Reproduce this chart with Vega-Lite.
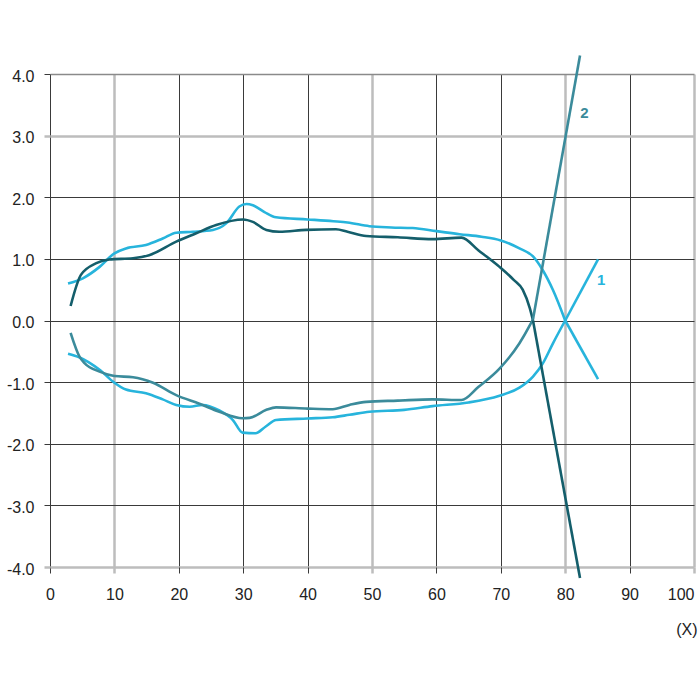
{
  "$schema": "https://vega.github.io/schema/vega-lite/v6.json",
  "width": 644,
  "height": 493,
  "autosize": "none",
  "padding": {"left": 50, "top": 74, "right": 6, "bottom": 133},
  "background": "white",
  "config": {
    "view": {"stroke": null},
    "font": "Liberation Sans"
  },
  "data": {
    "values": [
      {"s": "A", "seg": "curve", "x": 2.8, "y": 0.6}, {"s": "A", "seg": "curve", "x": 5.1, "y": 0.685}, {"s": "A", "seg": "curve", "x": 7.7, "y": 0.87},
      {"s": "A", "seg": "curve", "x": 10, "y": 1.09}, {"s": "A", "seg": "curve", "x": 11.8, "y": 1.17}, {"s": "A", "seg": "curve", "x": 14.9, "y": 1.225},
      {"s": "A", "seg": "curve", "x": 17.5, "y": 1.33}, {"s": "A", "seg": "curve", "x": 19.6, "y": 1.425}, {"s": "A", "seg": "curve", "x": 22.2, "y": 1.44},
      {"s": "A", "seg": "curve", "x": 25.3, "y": 1.47}, {"s": "A", "seg": "curve", "x": 27.4, "y": 1.58}, {"s": "A", "seg": "curve", "x": 29.4, "y": 1.85},
      {"s": "A", "seg": "curve", "x": 30.5, "y": 1.89}, {"s": "A", "seg": "curve", "x": 31.5, "y": 1.87}, {"s": "A", "seg": "curve", "x": 33.3, "y": 1.76},
      {"s": "A", "seg": "curve", "x": 35.1, "y": 1.675}, {"s": "A", "seg": "curve", "x": 40, "y": 1.64}, {"s": "A", "seg": "curve", "x": 44, "y": 1.61},
      {"s": "A", "seg": "curve", "x": 46.2, "y": 1.59}, {"s": "A", "seg": "curve", "x": 49.6, "y": 1.53}, {"s": "A", "seg": "curve", "x": 53, "y": 1.51},
      {"s": "A", "seg": "curve", "x": 56.3, "y": 1.5}, {"s": "A", "seg": "curve", "x": 60, "y": 1.45}, {"s": "A", "seg": "curve", "x": 63.6, "y": 1.4},
      {"s": "A", "seg": "curve", "x": 67, "y": 1.36}, {"s": "A", "seg": "curve", "x": 70, "y": 1.3}, {"s": "A", "seg": "curve", "x": 72.9, "y": 1.17},
      {"s": "A", "seg": "curve", "x": 75, "y": 1.04}, {"s": "A", "seg": "curve", "x": 76.5, "y": 0.82}, {"s": "A", "seg": "curve", "x": 78.1, "y": 0.495},
      {"s": "A", "seg": "curve", "x": 80, "y": 0},
      {"s": "A", "seg": "tail", "x": 80, "y": 0}, {"s": "A", "seg": "tail", "x": 85.1, "y": -0.95},

      {"s": "B", "seg": "curve", "x": 2.8, "y": -0.54}, {"s": "B", "seg": "curve", "x": 4.6, "y": -0.6}, {"s": "B", "seg": "curve", "x": 7.7, "y": -0.8},
      {"s": "B", "seg": "curve", "x": 10, "y": -1.01}, {"s": "B", "seg": "curve", "x": 11.8, "y": -1.12}, {"s": "B", "seg": "curve", "x": 14.9, "y": -1.18},
      {"s": "B", "seg": "curve", "x": 17.5, "y": -1.28}, {"s": "B", "seg": "curve", "x": 19.6, "y": -1.37}, {"s": "B", "seg": "curve", "x": 21.7, "y": -1.4},
      {"s": "B", "seg": "curve", "x": 23.7, "y": -1.37}, {"s": "B", "seg": "curve", "x": 26.3, "y": -1.46}, {"s": "B", "seg": "curve", "x": 28.4, "y": -1.615},
      {"s": "B", "seg": "curve", "x": 29.9, "y": -1.82}, {"s": "B", "seg": "curve", "x": 31.9, "y": -1.83}, {"s": "B", "seg": "curve", "x": 33.5, "y": -1.72},
      {"s": "B", "seg": "curve", "x": 35.1, "y": -1.615}, {"s": "B", "seg": "curve", "x": 40, "y": -1.59}, {"s": "B", "seg": "curve", "x": 43.9, "y": -1.57},
      {"s": "B", "seg": "curve", "x": 46.5, "y": -1.53}, {"s": "B", "seg": "curve", "x": 49.6, "y": -1.48}, {"s": "B", "seg": "curve", "x": 55, "y": -1.45},
      {"s": "B", "seg": "curve", "x": 59.4, "y": -1.39}, {"s": "B", "seg": "curve", "x": 65, "y": -1.33}, {"s": "B", "seg": "curve", "x": 69.8, "y": -1.22},
      {"s": "B", "seg": "curve", "x": 72.9, "y": -1.09}, {"s": "B", "seg": "curve", "x": 75, "y": -0.91}, {"s": "B", "seg": "curve", "x": 76.5, "y": -0.7},
      {"s": "B", "seg": "curve", "x": 78.1, "y": -0.37}, {"s": "B", "seg": "curve", "x": 80, "y": 0},
      {"s": "B", "seg": "tail", "x": 80, "y": 0}, {"s": "B", "seg": "tail", "x": 85.1, "y": 0.99},

      {"s": "C", "seg": "curve", "x": 3.2, "y": 0.235}, {"s": "C", "seg": "curve", "x": 4.8, "y": 0.74}, {"s": "C", "seg": "curve", "x": 7.2, "y": 0.93},
      {"s": "C", "seg": "curve", "x": 9.2, "y": 0.99}, {"s": "C", "seg": "curve", "x": 12.9, "y": 1.01}, {"s": "C", "seg": "curve", "x": 15.4, "y": 1.06},
      {"s": "C", "seg": "curve", "x": 19.6, "y": 1.28}, {"s": "C", "seg": "curve", "x": 22.7, "y": 1.415}, {"s": "C", "seg": "curve", "x": 25.8, "y": 1.55},
      {"s": "C", "seg": "curve", "x": 30, "y": 1.64}, {"s": "C", "seg": "curve", "x": 31.5, "y": 1.6}, {"s": "C", "seg": "curve", "x": 33.6, "y": 1.47},
      {"s": "C", "seg": "curve", "x": 35.6, "y": 1.44}, {"s": "C", "seg": "curve", "x": 39.8, "y": 1.47}, {"s": "C", "seg": "curve", "x": 44.4, "y": 1.48},
      {"s": "C", "seg": "curve", "x": 46.2, "y": 1.44}, {"s": "C", "seg": "curve", "x": 49.1, "y": 1.37}, {"s": "C", "seg": "curve", "x": 54, "y": 1.35},
      {"s": "C", "seg": "curve", "x": 59.4, "y": 1.32}, {"s": "C", "seg": "curve", "x": 63.9, "y": 1.345}, {"s": "C", "seg": "curve", "x": 66.5, "y": 1.14},
      {"s": "C", "seg": "curve", "x": 69.8, "y": 0.87}, {"s": "C", "seg": "curve", "x": 72, "y": 0.66}, {"s": "C", "seg": "curve", "x": 73.4, "y": 0.5},
      {"s": "C", "seg": "curve", "x": 74.5, "y": 0.2}, {"s": "C", "seg": "curve", "x": 75, "y": 0},
      {"s": "C", "seg": "tail", "x": 75, "y": 0}, {"s": "C", "seg": "tail", "x": 82.3, "y": -4.18},

      {"s": "D", "seg": "curve", "x": 3.2, "y": -0.2}, {"s": "D", "seg": "curve", "x": 4.6, "y": -0.59}, {"s": "D", "seg": "curve", "x": 5.4, "y": -0.695},
      {"s": "D", "seg": "curve", "x": 7.7, "y": -0.83}, {"s": "D", "seg": "curve", "x": 10, "y": -0.9}, {"s": "D", "seg": "curve", "x": 12.9, "y": -0.92},
      {"s": "D", "seg": "curve", "x": 16, "y": -1.01}, {"s": "D", "seg": "curve", "x": 19.6, "y": -1.21}, {"s": "D", "seg": "curve", "x": 23.2, "y": -1.35},
      {"s": "D", "seg": "curve", "x": 26.3, "y": -1.48}, {"s": "D", "seg": "curve", "x": 29.9, "y": -1.585}, {"s": "D", "seg": "curve", "x": 31, "y": -1.58},
      {"s": "D", "seg": "curve", "x": 33.6, "y": -1.45}, {"s": "D", "seg": "curve", "x": 35.1, "y": -1.41}, {"s": "D", "seg": "curve", "x": 40, "y": -1.43},
      {"s": "D", "seg": "curve", "x": 43.9, "y": -1.44}, {"s": "D", "seg": "curve", "x": 46.5, "y": -1.37}, {"s": "D", "seg": "curve", "x": 49.1, "y": -1.32},
      {"s": "D", "seg": "curve", "x": 54, "y": -1.3}, {"s": "D", "seg": "curve", "x": 59.4, "y": -1.28}, {"s": "D", "seg": "curve", "x": 63.9, "y": -1.29},
      {"s": "D", "seg": "curve", "x": 66.5, "y": -1.08}, {"s": "D", "seg": "curve", "x": 69.8, "y": -0.78}, {"s": "D", "seg": "curve", "x": 72.9, "y": -0.37},
      {"s": "D", "seg": "curve", "x": 74.5, "y": -0.08}, {"s": "D", "seg": "curve", "x": 75, "y": 0.02},
      {"s": "D", "seg": "tail", "x": 75, "y": 0.02}, {"s": "D", "seg": "tail", "x": 82.3, "y": 4.3},

      {"s": "D", "seg": "label", "x": 83.0, "y": 3.37, "label": "2"},
      {"s": "A", "seg": "label", "x": 85.6, "y": 0.66, "label": "1"}
    ]
  },
  "encoding": {
    "x": {
      "field": "x",
      "type": "quantitative",
      "scale": {"domain": [0, 100], "nice": false},
      "axis": {
        "values": [0, 10, 20, 30, 40, 50, 60, 70, 80, 90, 100],
        "domain": false,
        "title": "(X)",
        "titleFontWeight": "normal",
        "titleFontSize": 16,
        "titleColor": "#222",
        "titleAnchor": "end",
        "titleAlign": "right",
        "titleBaseline": "middle",
        "titleX": 647,
        "titleY": 62,
        "labelFontSize": 16,
        "labelColor": "#222",
        "labelPadding": 13,
        "labelFlush": false,
        "labelAlign": {"condition": {"test": "datum.value == 100", "value": "right"}, "value": "center"},
        "tickSize": 6,
        "tickColor": {"condition": {"test": "datum.value == 10 || datum.value == 50 || datum.value == 80 || datum.value == 100", "value": "#bdbdbd"}, "value": "#3a3a3a"},
        "tickWidth": {"condition": {"test": "datum.value == 10 || datum.value == 50 || datum.value == 80 || datum.value == 100", "value": 2.5}, "value": 1},
        "gridColor": {"condition": {"test": "datum.value == 10 || datum.value == 50 || datum.value == 80 || datum.value == 100", "value": "#bdbdbd"}, "value": "#3a3a3a"},
        "gridWidth": {"condition": {"test": "datum.value == 10 || datum.value == 50 || datum.value == 80 || datum.value == 100", "value": 2.5}, "value": 1},
        "gridOpacity": 1
      }
    },
    "y": {
      "field": "y",
      "type": "quantitative",
      "scale": {"domain": [-4, 4], "nice": false},
      "axis": {
        "values": [-4, -3, -2, -1, 0, 1, 2, 3, 4],
        "domain": false,
        "title": null,
        "labelExpr": "(datum.value < 0 ? '-' : '') + format(abs(datum.value), '.1f')",
        "labelFontSize": 16,
        "labelColor": "#222",
        "labelPadding": 10,
        "labelOffset": 2,
        "labelFlush": false,
        "tickSize": 6,
        "tickColor": {"condition": {"test": "datum.value == 3 || datum.value == -4", "value": "#bdbdbd"}, "value": "#3a3a3a"},
        "tickWidth": {"condition": {"test": "datum.value == 3 || datum.value == -4", "value": 2.5}, "value": 1},
        "gridColor": {"condition": [{"test": "datum.value == 3 || datum.value == -4", "value": "#bdbdbd"}, {"test": "datum.value == 4", "value": "#8a8a8a"}], "value": "#3a3a3a"},
        "gridWidth": {"condition": [{"test": "datum.value == 3 || datum.value == -4", "value": 2.5}, {"test": "datum.value == 4", "value": 1.6}], "value": 1},
        "gridOpacity": 1
      }
    },
    "color": {
      "field": "s",
      "type": "nominal",
      "scale": {"domain": ["A", "B", "C", "D"], "range": ["#27b4dc", "#27b4dc", "#145e6b", "#3b8b9b"]},
      "legend": null
    }
  },
  "layer": [
    {
      "transform": [{"filter": "datum.seg == 'curve'"}],
      "mark": {"type": "line", "clip": false, "interpolate": "monotone"},
      "encoding": {
        "strokeWidth": {
          "field": "s",
          "type": "nominal",
          "scale": {"domain": ["A", "B", "C", "D"], "range": [2.6, 2.6, 2, 1.6]},
          "legend": null
        }
      }
    },
    {
      "transform": [{"filter": "datum.seg == 'tail'"}],
      "mark": {"type": "line", "clip": false, "interpolate": "linear"},
      "encoding": {
        "strokeWidth": {
          "field": "s",
          "type": "nominal",
          "scale": {"domain": ["A", "B", "C", "D"], "range": [2.6, 2.6, 2, 1.6]},
          "legend": null
        }
      }
    },
    {
      "transform": [{"filter": "datum.seg == 'label'"}],
      "mark": {"type": "text", "fontSize": 15, "fontWeight": "bold", "font": "Liberation Sans", "align": "center", "baseline": "middle", "clip": false},
      "encoding": {
        "text": {"field": "label"}
      }
    }
  ]
}
